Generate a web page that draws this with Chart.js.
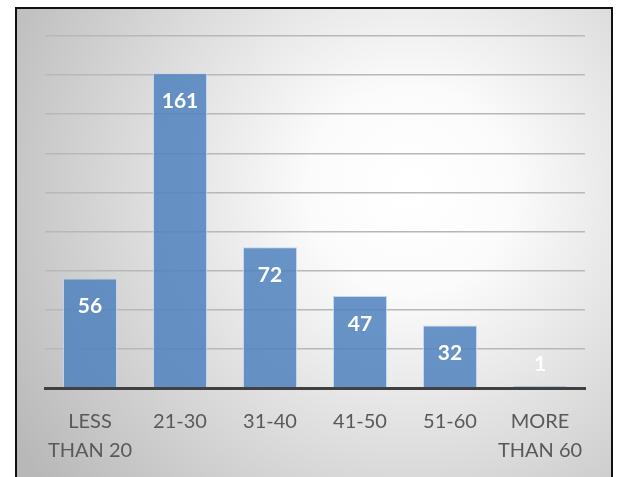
<!DOCTYPE html>
<html>
<head>
<meta charset="utf-8">
<script src="https://cdn.jsdelivr.net/npm/chart.js@4"></script>
<style>
html,body{margin:0;padding:0;background:#fff;}
#wrap{width:617px;height:477px;position:relative;}
</style>
</head>
<body>
<div id="wrap"><canvas id="c" width="617" height="477"></canvas></div>
<script>
const categories = [["LESS","THAN 20"], "21-30", "31-40", "41-50", "51-60", ["MORE","THAN 60"]];
const counts = [56, 161, 72, 47, 32, 1];
const yMax = 180;
const yStep = 20;

const bgPlugin = {
  id: 'bgbox',
  beforeDraw(chart) {
    const ctx = chart.ctx;
    ctx.save();
    ctx.fillStyle = '#ffffff';
    ctx.fillRect(0, 0, chart.width, chart.height);
    const g = ctx.createRadialGradient(410, 190, 10, 410, 190, 470);
    g.addColorStop(0, '#ffffff');
    g.addColorStop(0.2, '#fbfbfb');
    g.addColorStop(1, '#b8b8b8');
    ctx.fillStyle = g;
    ctx.fillRect(16, 8, 596, 480);
    ctx.strokeStyle = '#111111';
    ctx.lineWidth = 2;
    ctx.strokeRect(16, 8, 596, 480);
    ctx.restore();
  }
};

const labelPlugin = {
  id: 'vals',
  afterDatasetsDraw(chart) {
    const ctx = chart.ctx;
    const meta = chart.getDatasetMeta(0);
    const base = chart.scales.y.getPixelForValue(0);
    ctx.save();
    ctx.fillStyle = '#ffffff';
    ctx.font = 'bold 21px Lato';
    ctx.textAlign = 'center';
    ctx.textBaseline = 'middle';
    meta.data.forEach((bar, i) => {
      const y = Math.min(bar.y + 28, base - 24);
      ctx.fillText(String(counts[i]), bar.x, y);
    });
    ctx.restore();
  }
};

new Chart(document.getElementById('c'), {
  type: 'bar',
  data: {
    labels: categories,
    datasets: [{
      data: counts,
      backgroundColor: 'rgba(79,129,189,0.85)',
      borderColor: 'rgba(190,212,238,0.9)',
      borderWidth: 1,
      categoryPercentage: 0.6,
      barPercentage: 1.0
    }]
  },
  options: {
    responsive: false,
    animation: false,
    layout: { padding: { left: 45, right: 32, top: 36, bottom: 0 } },
    plugins: { legend: { display: false }, tooltip: { enabled: false } },
    scales: {
      x: {
        grid: { display: false, drawTicks: false },
        border: { display: true, color: '#404040', width: 3 },
        ticks: { color: '#595959', font: { family: 'Lato', size: 20, lineHeight: 1.45 }, padding: 19, maxRotation: 0, autoSkip: false },
        afterFit(scale) { scale.height = 89; }
      },
      y: {
        min: 0, max: yMax,
        ticks: { display: false, stepSize: yStep },
        grid: { color: '#b8b8b8', lineWidth: 1.5, drawTicks: false },
        border: { display: false },
        afterFit(scale) { scale.width = 0; }
      }
    }
  },
  plugins: [bgPlugin, labelPlugin]
});
</script>
</body>
</html>
